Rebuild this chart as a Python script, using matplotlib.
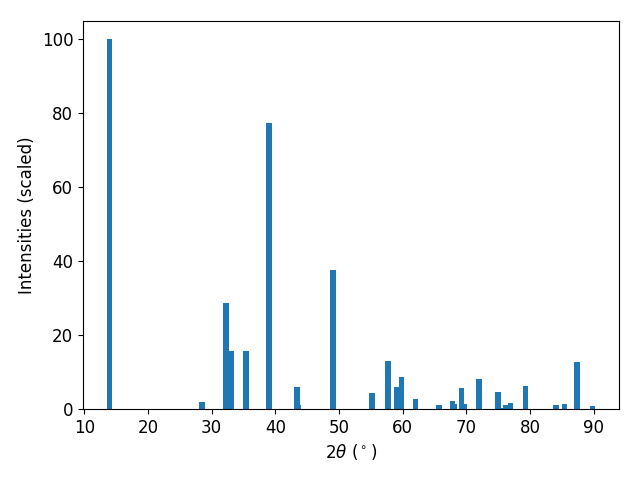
import numpy as np
import matplotlib.pyplot as plt

# peak positions (2theta, degrees) and scaled intensities
two_theta = [14.0, 28.47, 32.24, 33.03, 35.39, 39.0, 43.4, 43.7, 49.06,
             55.19, 57.7, 59.1, 59.75, 61.95, 65.72, 67.77, 68.2, 69.18,
             69.66, 72.0, 74.99, 75.5, 76.1, 76.89, 79.24, 84.1, 85.37,
             87.4, 89.77]
intensity = [100.0, 1.9, 28.7, 15.7, 15.7, 77.5, 6.0, 1.1, 37.7,
             4.3, 13.0, 6.0, 8.7, 2.7, 1.1, 2.2, 1.4, 5.7,
             1.4, 8.1, 4.6, 0.3, 1.1, 1.6, 6.2, 1.1, 1.4,
             12.7, 0.8]

plt.rcParams['font.size'] = 12

fig, ax = plt.subplots(figsize=(6.4, 4.8), dpi=100)
ax.bar(two_theta, intensity)
ax.set_xlabel(r"$2\theta$ ($^\circ$)")
ax.set_ylabel("Intensities (scaled)")
fig.subplots_adjust(left=83/640, right=619/640, top=1-21/480, bottom=1-409/480)
fig.savefig("out.png")
